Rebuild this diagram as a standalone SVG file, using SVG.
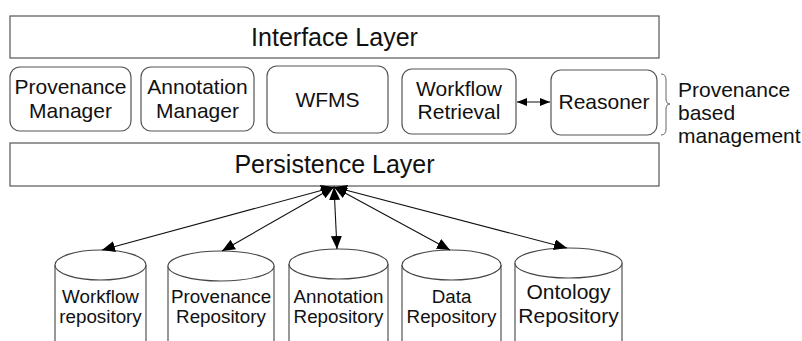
<svg xmlns="http://www.w3.org/2000/svg" width="802" height="341" viewBox="0 0 802 341">
<defs>
<style>
.box{fill:#fff;stroke:#555;stroke-width:1.2}
.t{font-family:"Liberation Sans",Arial,sans-serif;fill:#111;text-anchor:middle}
.big{font-size:25px}
.mid{font-size:21px}
.sm{font-size:18.8px}
.lbl{font-family:"Liberation Sans",Arial,sans-serif;fill:#111;font-size:21px}
.cyl{fill:#fff;stroke:#444;stroke-width:1.1}
.conn{stroke:#111;stroke-width:1.1;fill:none}
</style>
<marker id="ah" viewBox="0 0 13 11" refX="13" refY="5.5" markerWidth="13" markerHeight="11" markerUnits="userSpaceOnUse" orient="auto-start-reverse">
<path d="M0,0 L13,5.5 L0,11 Z" fill="#000"/>
</marker>
<marker id="ahs" viewBox="0 0 10 8" refX="10" refY="4" markerWidth="10" markerHeight="8" markerUnits="userSpaceOnUse" orient="auto-start-reverse">
<path d="M0,0 L10,4 L0,8 Z" fill="#000"/>
</marker>
</defs>

<g id="interface-layer">
<rect class="box" x="10" y="16" width="649" height="42"/>
<text class="t big" x="334.5" y="46">Interface Layer</text>
</g>

<g id="provenance-manager">
<rect class="box" x="10" y="67" width="121" height="64" rx="10"/>
<text class="t mid" x="70.5" y="94">Provenance</text>
<text class="t mid" x="70.5" y="118">Manager</text>
</g>

<g id="annotation-manager">
<rect class="box" x="141" y="67" width="113" height="64" rx="10"/>
<text class="t mid" x="197.5" y="94">Annotation</text>
<text class="t mid" x="197.5" y="118">Manager</text>
</g>

<g id="wfms">
<rect class="box" x="267" y="66" width="121" height="67" rx="10"/>
<text class="t mid" x="327.5" y="107">WFMS</text>
</g>

<g id="workflow-retrieval">
<rect class="box" x="402" y="69" width="114" height="65" rx="10"/>
<text class="t mid" x="459" y="96">Workflow</text>
<text class="t mid" x="459" y="119">Retrieval</text>
</g>

<g id="reasoner">
<rect class="box" x="551" y="70" width="106" height="65" rx="10"/>
<text class="t mid" x="604" y="109">Reasoner</text>
</g>

<g id="provenance-based-management">
<path d="M661,74 Q666,74 666,80 L666,99 Q666,104 670,104 Q666,104 666,109 L666,129 Q666,135 661,135" fill="none" stroke="#666" stroke-width="1"/>
<text class="lbl" x="678" y="97">Provenance</text>
<text class="lbl" x="678" y="120">based</text>
<text class="lbl" x="678" y="143">management</text>
</g>

<g id="persistence-layer">
<rect class="box" x="10" y="143" width="649" height="43"/>
<text class="t big" x="334.5" y="173">Persistence Layer</text>
</g>

<g id="workflow-repository">
<path class="cyl" d="M55,265 A45.5,15 0 0 1 146,265 L146,346 L55,346 Z"/>
<path class="cyl" d="M55,265 A45.5,15 0 0 0 146,265" fill="none"/>
<text class="t sm" x="100.5" y="303">Workflow</text>
<text class="t sm" x="100.5" y="323">repository</text>
</g>

<g id="provenance-repository">
<path class="cyl" d="M168,266 A53,15 0 0 1 274,266 L274,346 L168,346 Z"/>
<path class="cyl" d="M168,266 A53,15 0 0 0 274,266" fill="none"/>
<text class="t sm" x="221" y="303">Provenance</text>
<text class="t sm" x="221" y="323">Repository</text>
</g>

<g id="annotation-repository">
<path class="cyl" d="M289,264 A49.5,15 0 0 1 388,264 L388,346 L289,346 Z"/>
<path class="cyl" d="M289,264 A49.5,15 0 0 0 388,264" fill="none"/>
<text class="t sm" x="338.5" y="303">Annotation</text>
<text class="t sm" x="338.5" y="323">Repository</text>
</g>

<g id="data-repository">
<path class="cyl" d="M402,265 A49.5,15 0 0 1 501,265 L501,346 L402,346 Z"/>
<path class="cyl" d="M402,265 A49.5,15 0 0 0 501,265" fill="none"/>
<text class="t sm" x="451.5" y="303">Data</text>
<text class="t sm" x="451.5" y="323">Repository</text>
</g>

<g id="ontology-repository">
<path class="cyl" d="M515,263 A53.5,15 0 0 1 622,263 L622,346 L515,346 Z"/>
<path class="cyl" d="M515,263 A53.5,15 0 0 0 622,263" fill="none"/>
<text class="t" x="568.5" y="299" style="font-size:21px">Ontology</text>
<text class="t" x="568.5" y="323" style="font-size:21px">Repository</text>
</g>

<g id="connectors">
<line class="conn" x1="517" y1="102" x2="550" y2="102" marker-start="url(#ahs)" marker-end="url(#ahs)"/>
<line class="conn" x1="334" y1="187" x2="102" y2="250" marker-start="url(#ah)" marker-end="url(#ah)"/>
<line class="conn" x1="334" y1="187" x2="222" y2="251" marker-start="url(#ah)" marker-end="url(#ah)"/>
<line class="conn" x1="334" y1="187" x2="337" y2="249" marker-start="url(#ah)" marker-end="url(#ah)"/>
<line class="conn" x1="334" y1="187" x2="450" y2="250" marker-start="url(#ah)" marker-end="url(#ah)"/>
<line class="conn" x1="334" y1="187" x2="567" y2="248" marker-start="url(#ah)" marker-end="url(#ah)"/>
</g>
</svg>
